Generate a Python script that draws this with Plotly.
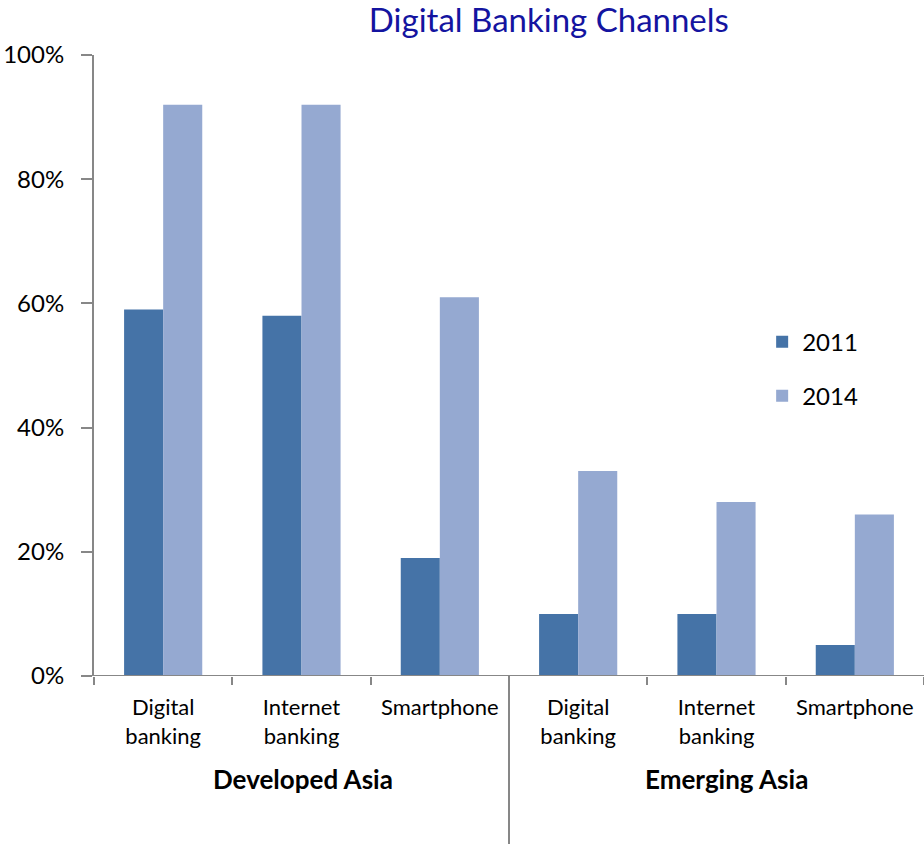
import plotly.graph_objects as go

# Share of respondents using each digital banking channel
categories = ["Digital<br>banking", "Internet<br>banking", "Smartphone",
              "Digital<br>banking", "Internet<br>banking", "Smartphone"]
regions = ["Developed Asia", "Emerging Asia"]
values_2011 = [0.59, 0.58, 0.19, 0.10, 0.10, 0.05]
values_2014 = [0.92, 0.92, 0.61, 0.33, 0.28, 0.26]
y_ticks = [0, 0.2, 0.4, 0.6, 0.8, 1.0]

x_pos = [i + 0.5 for i in range(len(categories))]
font_family = "Lato, 'Open Sans', sans-serif"
axis_color = "#878787"

fig = go.Figure()
fig.add_trace(go.Bar(x=x_pos, y=values_2011, name="2011",
                     marker=dict(color="#4573A7", line=dict(width=0)),
                     legendgroup="a"))
fig.add_trace(go.Bar(x=x_pos, y=values_2014, name="2014",
                     marker=dict(color="#95A9D1", line=dict(width=0)),
                     legendgroup="b"))

fig.update_layout(
    width=924, height=844,
    margin=dict(l=94, r=0, t=55, b=168),
    paper_bgcolor="white", plot_bgcolor="white",
    barmode="group", bargap=0.435, bargroupgap=0,
    font=dict(family=font_family, color="black", size=22),
    title=dict(text="Digital Banking Channels", x=0.594, xref="container",
               xanchor="center", y=0.976, yanchor="middle",
               font=dict(size=33, color="#1414A0", family=font_family)),
    legend=dict(x=0.805, y=0.574, xanchor="left", yanchor="top",
                font=dict(size=24), tracegroupgap=20,
                bgcolor="rgba(0,0,0,0)"),
    xaxis=dict(range=[0, 6], tickvals=x_pos, ticktext=categories,
               ticks="", showline=False, showgrid=False, zeroline=False,
               tickfont=dict(size=22), ticklabelstandoff=16,
               minor=dict(tickvals=list(range(7)), ticks="outside",
                          ticklen=8, tickcolor=axis_color, tickwidth=2)),
    yaxis=dict(range=[0, 1], tickvals=y_ticks, tickformat=".0%",
               ticks="outside", ticklen=11, tickcolor=axis_color, tickwidth=2,
               showline=True, linecolor=axis_color, linewidth=2,
               showgrid=False, zeroline=False, tickfont=dict(size=24),
               ticklabelstandoff=12),
)

# Baseline across the full width
fig.add_shape(type="line", xref="x", yref="y", x0=0, x1=6, y0=0, y1=0,
              line=dict(color=axis_color, width=2))
# Divider between the two region groups
fig.add_shape(type="line", xref="x", yref="paper", x0=3, x1=3, y0=0, y1=-0.272,
              line=dict(color=axis_color, width=2))

# Region labels beneath the category labels
for x, label in zip([1.51, 4.57], regions):
    fig.add_annotation(x=x, xref="x", y=-0.166, yref="paper", text=f"<b>{label}</b>",
                       showarrow=False, font=dict(size=26), yanchor="middle")

fig.write_html("out.html")
